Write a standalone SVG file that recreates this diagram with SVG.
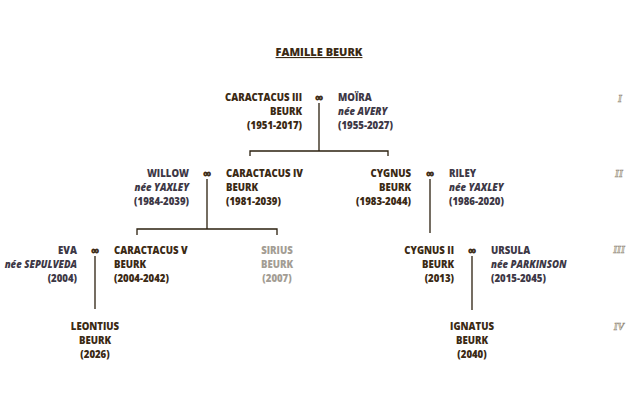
<svg xmlns="http://www.w3.org/2000/svg" width="640" height="400" viewBox="0 0 640 400">
<style>
text{font-family:"Open Sans","Liberation Sans",sans-serif;font-size:9.6px;font-weight:800;fill:#3b2a14}
.sp{fill:#3d3846}
.i{font-style:italic}
.gray{fill:#a39d94}
.r{text-anchor:end}
.m{text-anchor:middle}
.title{font-size:11px;text-anchor:middle;text-decoration:underline}
.mar{font-family:"DejaVu Sans",sans-serif;font-size:10px;font-weight:bold;text-anchor:middle;stroke:#3b2a14;stroke-width:0.7}
.gen{font-family:"Liberation Serif",serif;font-style:italic;font-weight:bold;font-size:10px;fill:#e6dfcf;stroke:#8a8274;stroke-width:0.5;text-anchor:middle}
.ln{stroke:#2b200f;stroke-width:1.3;fill:none}
</style>
<rect width="640" height="400" fill="#ffffff"/>
<text x="319" y="56" class="title">FAMILLE BEURK</text>

<g id="connectors">
<path class="ln" d="M319,103V151M250,156V151H388V156"/>
<path class="ln" d="M207,179V229M137,235V229H277V235"/>
<path class="ln" d="M430,179V233"/>
<path class="ln" d="M95,256V309"/>
<path class="ln" d="M472,256V310"/>
</g>

<g id="caractacus3"><text x="302" y="101" class="r">CARACTACUS III</text><text x="302" y="115" class="r">BEURK</text><text x="302" y="129" class="r">(1951-2017)</text></g>
<text x="319" y="101" class="mar">∞</text>
<g id="moira"><text x="338" y="101" class="sp">MOÏRA</text><text x="338" y="115" class="sp i">née AVERY</text><text x="338" y="129" class="sp">(1955-2027)</text></g>

<g id="willow"><text x="189" y="177" class="r sp">WILLOW</text><text x="189" y="191" class="r i sp">née YAXLEY</text><text x="189" y="205" class="r sp">(1984-2039)</text></g>
<text x="207" y="177" class="mar">∞</text>
<g id="caractacus4"><text x="226" y="177">CARACTACUS IV</text><text x="226" y="191">BEURK</text><text x="226" y="205">(1981-2039)</text></g>

<g id="cygnus"><text x="411" y="177" class="r">CYGNUS</text><text x="411" y="191" class="r">BEURK</text><text x="411" y="205" class="r">(1983-2044)</text></g>
<text x="430" y="177" class="mar">∞</text>
<g id="riley"><text x="449" y="177" class="sp">RILEY</text><text x="449" y="191" class="i sp">née YAXLEY</text><text x="449" y="205" class="sp">(1986-2020)</text></g>

<g id="eva"><text x="77" y="254" class="r sp">EVA</text><text x="77" y="268" class="r i sp">née SEPULVEDA</text><text x="77" y="282" class="r sp">(2004)</text></g>
<text x="95" y="254" class="mar">∞</text>
<g id="caractacus5"><text x="114" y="254">CARACTACUS V</text><text x="114" y="268">BEURK</text><text x="114" y="282">(2004-2042)</text></g>

<g id="sirius"><text x="277" y="254" class="m gray">SIRIUS</text><text x="277" y="268" class="m gray">BEURK</text><text x="277" y="282" class="m gray">(2007)</text></g>

<g id="cygnus2"><text x="454" y="254" class="r">CYGNUS II</text><text x="454" y="268" class="r">BEURK</text><text x="454" y="282" class="r">(2013)</text></g>
<text x="472" y="254" class="mar">∞</text>
<g id="ursula"><text x="491" y="254" class="sp">URSULA</text><text x="491" y="268" class="i sp">née PARKINSON</text><text x="491" y="282" class="sp">(2015-2045)</text></g>

<g id="leontius"><text x="95" y="330" class="m">LEONTIUS</text><text x="95" y="344" class="m">BEURK</text><text x="95" y="358" class="m">(2026)</text></g>
<g id="ignatus"><text x="472" y="330" class="m">IGNATUS</text><text x="472" y="344" class="m">BEURK</text><text x="472" y="358" class="m">(2040)</text></g>

<g id="generations">
<text x="620" y="102" class="gen">I</text>
<text x="619" y="177" class="gen">II</text>
<text x="619" y="253" class="gen">III</text>
<text x="619" y="330" class="gen">IV</text>
</g>
</svg>
